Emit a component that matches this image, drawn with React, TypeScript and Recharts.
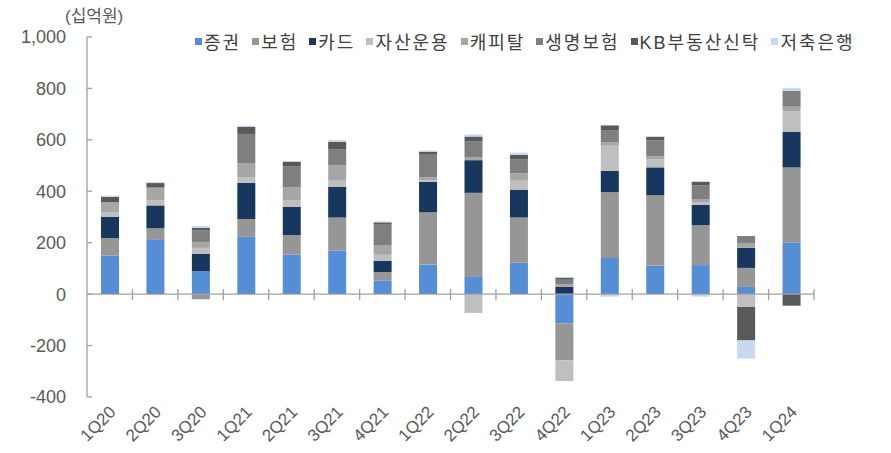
import React from 'react';
import { BarChart, Bar, XAxis, YAxis, ReferenceLine, Legend } from 'recharts';

const quarters = ['1Q20', '2Q20', '3Q20', '1Q21', '2Q21', '3Q21', '4Q21', '1Q22', '2Q22', '3Q22', '4Q22', '1Q23', '2Q23', '3Q23', '4Q23', '1Q24'];

const securities = [150, 213, 89, 223, 154, 170, 52, 115, 67, 123, -114, 141, 110, 113, 28, 200];
const insurance = [68, 43, -20, 69, 76, 128, 34, 204, 327, 175, -143, 256, 274, 155, 74, 293];
const card = [82, 89, 68, 141, 110, 120, 44, 118, 127, 107, 28, 82, 109, 79, 78, 139];
const assetMgmt = [18, 21, 23, 22, 26, 23, 23, 6, -73, 36, -81, 98, 32, 11, -50, 80];
const capital = [40, 45, 23, 55, 50, 61, 36, 11, 12, 29, 10, 14, 12, 12, 19, 17];
const lifeIns = [0, 4, 46, 113, 82, 62, 81, 88, 62, 55, 18, 47, 61, 53, 27, 61];
const realEstateTrust = [20, 17, 9, 27, 17, 29, 9, 12, 18, 17, 8, 18, 14, 14, -130, -45];
const savingsBank = [5, 4, 7, 5, 0, 6, 4, 5, 8, 8, 2, -10, 2, -10, -71, 12];

const yTicks = [-400, -200, 0, 200, 400, 600, 800, 1000];

const seriesNames = ['증권', '보험', '카드', '자산운용', '캐피탈', '생명보험', 'KB부동산신탁', '저축은행'];
const seriesValues = [securities, insurance, card, assetMgmt, capital, lifeIns, realEstateTrust, savingsBank];
const seriesColors = ['#558ED5', '#969696', '#17375E', '#BFBFBF', '#A6A6A6', '#7F7F7F', '#595959', '#C6D9F1'];

const data = quarters.map((q, i) => {
  const row: Record<string, number | string> = { quarter: q };
  seriesNames.forEach((name, s) => {
    row[name] = seriesValues[s][i];
  });
  return row;
});

const FONT = "'Liberation Sans', 'Noto Sans CJK KR', sans-serif";
const TEXT_COLOR = '#595959';
const AXIS_COLOR = '#A0A0A0';

const XTick = (props: any) => {
  const { x, y, payload } = props;
  const ax = x + 7;
  const ay = y + 8;
  return (
    <text
      x={ax}
      y={ay}
      transform={`rotate(-45 ${ax} ${ay})`}
      textAnchor="end"
      fontSize={17}
      fontFamily={FONT}
      fill={TEXT_COLOR}
    >
      {payload.value}
    </text>
  );
};

const ZeroLine = (props: any) => {
  const { x1, y1, x2 } = props;
  const n = quarters.length;
  const step = (x2 - x1) / n;
  const marks = [];
  for (let i = 1; i <= n; i++) {
    const mx = x1 + i * step;
    marks.push(<line key={i} x1={mx} x2={mx} y1={y1 - 5} y2={y1 + 6} stroke={AXIS_COLOR} strokeWidth={1.3} />);
  }
  return (
    <g>
      <line x1={x1} x2={x2} y1={y1} y2={y1} stroke={AXIS_COLOR} strokeWidth={1.3} />
      {marks}
    </g>
  );
};

const LegendContent = () => (
  <div style={{ display: 'flex', alignItems: 'center', fontFamily: FONT, fontSize: 18, letterSpacing: 2, color: '#404040', whiteSpace: 'nowrap' }}>
    {seriesNames.map((name, i) => (
      <span key={name} style={{ display: 'inline-flex', alignItems: 'center', marginRight: 11 }}>
        <span style={{ display: 'inline-block', width: 7, height: 7, background: seriesColors[i], marginRight: 2 }} />
        {name}
      </span>
    ))}
  </div>
);

const UnitLabel = (props: any) => {
  const { viewBox } = props;
  return (
    <text x={viewBox.x + 65} y={viewBox.y - 15} fontSize={17} fontFamily={FONT} fill={TEXT_COLOR}>
      (십억원)
    </text>
  );
};

export default function App() {
  return (
    <div style={{ position: 'absolute', left: 0, top: 0, width: 891, height: 453, background: '#fff' }}>
      <BarChart
        width={891}
        height={453}
        data={data}
        stackOffset="sign"
        margin={{ top: 37, right: 77, left: 0, bottom: 0 }}
        barSize={18}
      >
        <XAxis
          dataKey="quarter"
          axisLine={false}
          tickLine={false}
          interval={0}
          height={56}
          tick={<XTick />}
        />
        <YAxis
          width={87}
          domain={[-400, 1000]}
          ticks={yTicks}
          interval={0}
          allowDataOverflow
          axisLine={{ stroke: AXIS_COLOR, strokeWidth: 1.3 }}
          tickLine={{ stroke: AXIS_COLOR, strokeWidth: 1.3 }}
          tickSize={-5}
          tickMargin={26}
          tick={{ fontSize: 18, fontFamily: FONT, fill: TEXT_COLOR }}
          tickFormatter={(v: number) => v.toLocaleString('en-US')}
          label={<UnitLabel />}
        />
        <Legend
          verticalAlign="middle"
          layout="horizontal"
          wrapperStyle={{ top: 28, left: 195, width: 'auto' }}
          content={<LegendContent />}
        />
        {seriesNames.map((name, i) => (
          <Bar key={name} dataKey={name} stackId="a" fill={seriesColors[i]} isAnimationActive={false} />
        ))}
        <ReferenceLine y={0} shape={<ZeroLine />} />
      </BarChart>
    </div>
  );
}
